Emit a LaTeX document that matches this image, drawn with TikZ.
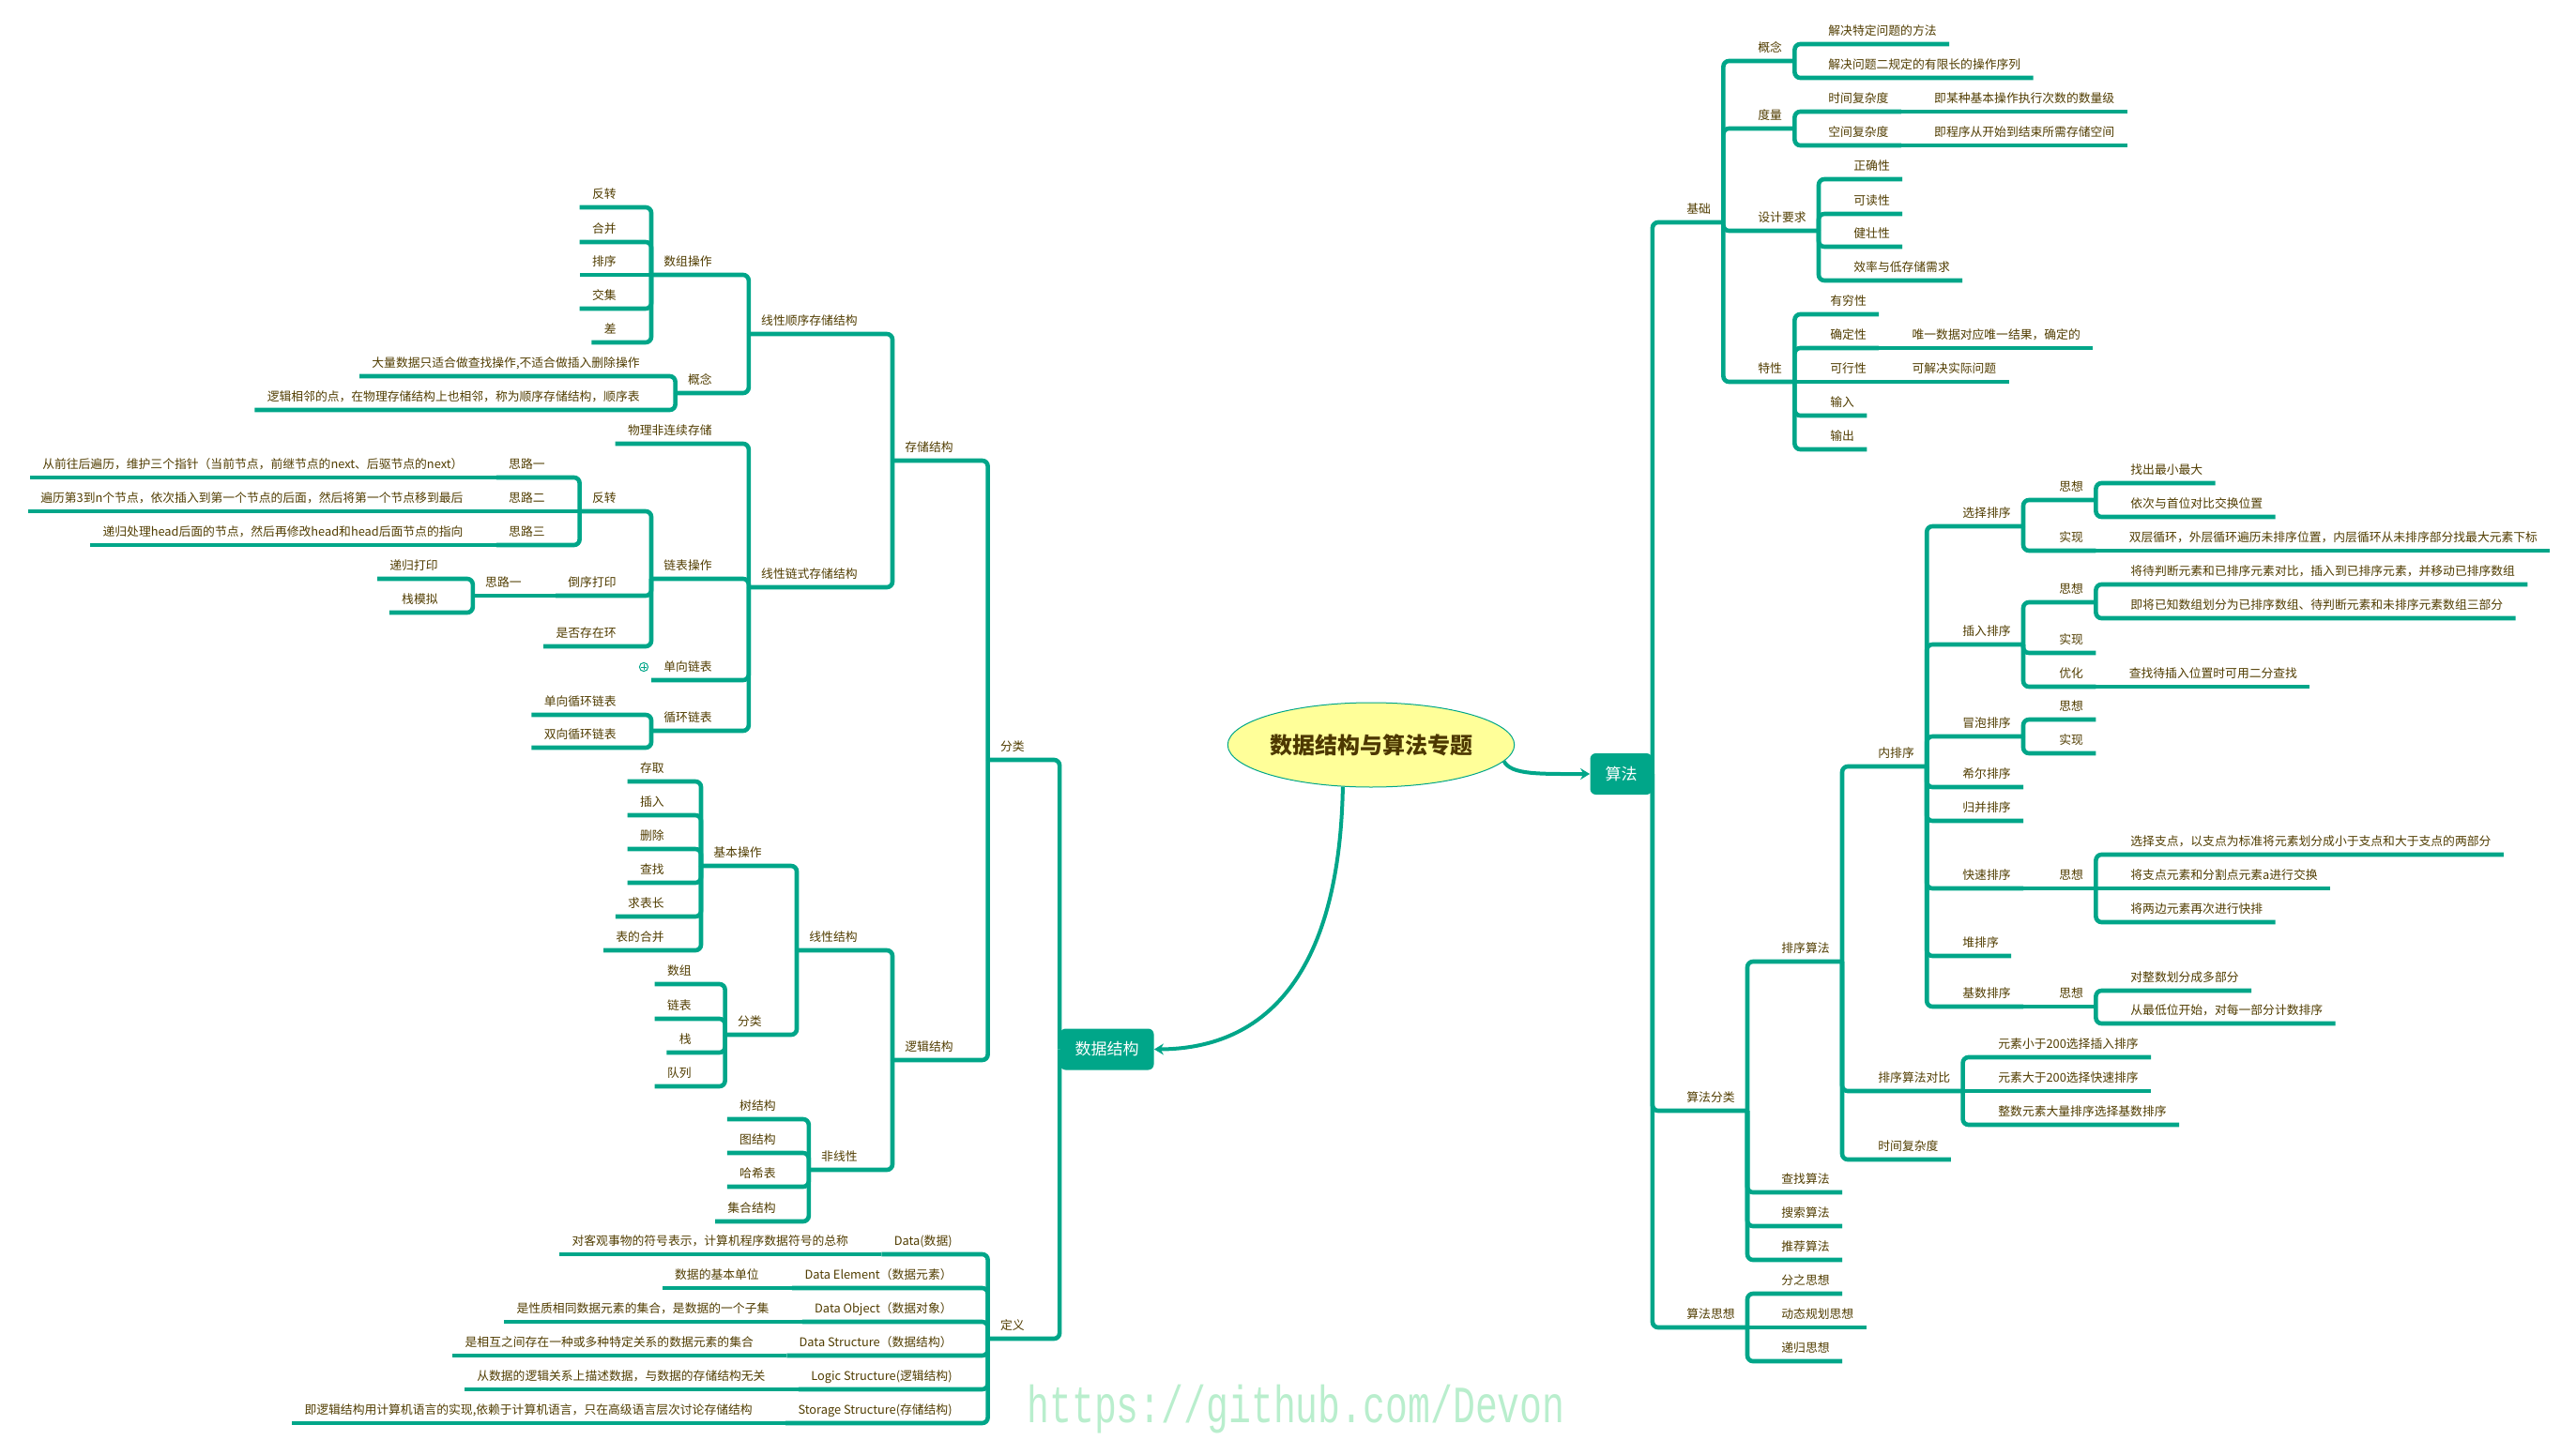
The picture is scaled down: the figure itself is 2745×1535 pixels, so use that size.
\documentclass[tikz,border=0pt]{standalone}
\usepackage{fontspec}
\setmainfont{Noto Sans CJK SC}
\newfontfamily\wmfont{Liberation Mono}
\usepackage{graphicx}
\usepackage{tikz}
\usetikzlibrary{positioning,shapes.geometric,arrows.meta}
\definecolor{brgreen}{RGB}{0,166,137}
\definecolor{inkbrown}{RGB}{80,60,0}
\definecolor{titleink}{RGB}{77,56,0}
\definecolor{titlefill}{RGB}{255,255,153}
\definecolor{wmgreen}{RGB}{185,238,205}

\begin{document}
\begin{tikzpicture}[
    x=0.5pt, y=-0.5pt,
    every node/.style={text=inkbrown, font=\fontsize{6.4pt}{8pt}\selectfont},
    item/.style={inner xsep=6.5pt, inner ysep=4.5pt, text depth=0pt},
    lt/.style={item, anchor=south east},
    rt/.style={item, anchor=south west},
    root/.style={ellipse, fill=titlefill, draw=brgreen, line width=0.5pt, minimum width=148.5pt, minimum height=45pt, inner sep=0pt, text=titleink, font=\fontsize{12pt}{14pt}\selectfont\bfseries},
    topic/.style={fill=brgreen, rounded corners=3pt, text=white, font=\fontsize{8.5pt}{10pt}\selectfont, minimum height=22pt, inner xsep=8pt},
    br/.style={draw=brgreen, line width=2.3pt, rounded corners=3pt},
    link/.style={->, >={Stealth[length=5pt,width=6pt]}, draw=brgreen, line width=2pt}
]
    \useasboundingbox (0,0) rectangle (2745,1535);

    \node[root] (ttl) at (1461,794) {数据结构与算法专题};
    \node[topic, minimum width=49.5pt] (ds) at (1179.5,1118.5) {数据结构};
    \node[topic, minimum width=32.5pt] (sf) at (1727.5,825) {算法};

    \node[lt] (fl) at (1105,810) {分类};
    \node[lt] (dy) at (1105,1427) {定义};
    \node[lt] (cc) at (1029,491) {存储结构};
    \node[lt] (lj) at (1029,1130) {逻辑结构};
    \node[lt] (sx) at (927,356) {线性顺序存储结构};
    \node[lt] (ls) at (927,626) {线性链式存储结构};
    \node[lt] (szcz) at (772,293) {数组操作};
    \node[lt] (gn1) at (772,419) {概念};
    \node[lt] (fz1) at (670,221) {反转};
    \node[lt] (hb1) at (670,258) {合并};
    \node[lt] (px1) at (670,293) {排序};
    \node[lt] (jj) at (670,329) {交集};
    \node[lt] (ch) at (670,365) {差};
    \node[lt] (gn1a) at (695,401) {大量数据只适合做查找操作,不适合做插入删除操作};
    \node[lt] (gn1b) at (695,437) {逻辑相邻的点，在物理存储结构上也相邻，称为顺序存储结构，顺序表};
    \node[lt] (wl) at (772,473) {物理非连续存储};
    \node[lt] (lbcz) at (772,617) {链表操作};
    \node[lt] (dxlb) at (772,725) {单向链表};
    \node[lt] (xhlb) at (772,779) {循环链表};
    \node[lt] (fz2) at (670,545) {反转};
    \node[lt] (dxdy) at (670,635) {倒序打印};
    \node[lt] (sfcz) at (670,689) {是否存在环};
    \node[lt] (sl1) at (594,509) {思路一};
    \node[lt] (sl2) at (594,545) {思路二};
    \node[lt] (sl3) at (594,581) {思路三};
    \node[lt, left=11pt of sl1.south west, anchor=south east] (sl1t) {从前往后遍历，维护三个指针（当前节点，前继节点的next、后驱节点的next）};
    \node[lt, left=11pt of sl2.south west, anchor=south east] (sl2t) {遍历第3到n个节点，依次插入到第一个节点的后面，然后将第一个节点移到最后};
    \node[lt, left=11pt of sl3.south west, anchor=south east] (sl3t) {递归处理head后面的节点，然后再修改head和head后面节点的指向};
    \node[lt] (dxsl) at (569,635) {思路一};
    \node[lt] (dgdy) at (480,617) {递归打印};
    \node[lt] (zmn) at (480,653) {栈模拟};
    \node[lt] (dxxh) at (670,762) {单向循环链表};
    \node[lt] (sxxh) at (670,797) {双向循环链表};
    \node[circle, draw=brgreen, line width=0.5pt, minimum size=4.6pt, inner sep=0pt] (fold) at (686,711) {};
    \node[lt] (xxjg) at (927,1013) {线性结构};
    \node[lt] (fxx) at (927,1247) {非线性};
    \node[lt] (jbcz) at (825,923) {基本操作};
    \node[lt] (fl2) at (825,1103) {分类};
    \node[lt] (cq) at (721,833) {存取};
    \node[lt] (cr) at (721,869) {插入};
    \node[lt] (sc) at (721,905) {删除};
    \node[lt] (cz) at (721,941) {查找};
    \node[lt] (qbc) at (721,977) {求表长};
    \node[lt] (bdhb) at (721,1013) {表的合并};
    \node[lt] (sz) at (750,1049) {数组};
    \node[lt] (lb) at (750,1086) {链表};
    \node[lt] (zh) at (750,1122) {栈};
    \node[lt] (dl) at (750,1158) {队列};
    \node[lt] (sjg) at (840,1193) {树结构};
    \node[lt] (tjg) at (840,1229) {图结构};
    \node[lt] (hxb) at (840,1265) {哈希表};
    \node[lt] (jhjg) at (840,1302) {集合结构};
    \node[lt] (data) at (1028,1337) {Data(数据)};
    \node[lt] (elem) at (1028,1373) {Data Element（数据元素）};
    \node[lt] (obj) at (1028,1409) {Data Object（数据对象）};
    \node[lt] (dstr) at (1028,1445) {Data Structure（数据结构）};
    \node[lt] (lstr) at (1028,1481) {Logic Structure(逻辑结构)};
    \node[lt] (sstr) at (1028,1517) {Storage Structure(存储结构)};
    \node[lt, left=11pt of data.south west, anchor=south east] (datat) {对客观事物的符号表示，计算机程序数据符号的总称};
    \node[lt, left=11pt of elem.south west, anchor=south east] (elemt) {数据的基本单位};
    \node[lt, left=11pt of obj.south west, anchor=south east] (objt) {是性质相同数据元素的集合，是数据的一个子集};
    \node[lt, left=11pt of dstr.south west, anchor=south east] (dstrt) {是相互之间存在一种或多种特定关系的数据元素的集合};
    \node[lt, left=11pt of lstr.south west, anchor=south east] (lstrt) {从数据的逻辑关系上描述数据，与数据的存储结构无关};
    \node[lt, left=11pt of sstr.south west, anchor=south east] (sstrt) {即逻辑结构用计算机语言的实现,依赖于计算机语言，只在高级语言层次讨论存储结构};

    \node[rt] (jc) at (1784,237) {基础};
    \node[rt] (flei) at (1784,1184) {算法分类};
    \node[rt] (sfsx) at (1784,1415) {算法思想};
    \node[rt] (gn2) at (1860,65) {概念};
    \node[rt] (dl2) at (1860,137) {度量};
    \node[rt] (sjyq) at (1860,246) {设计要求};
    \node[rt] (tx) at (1860,407) {特性};
    \node[rt] (gn2a) at (1935,47) {解决特定问题的方法};
    \node[rt] (gn2b) at (1935,83) {解决问题二规定的有限长的操作序列};
    \node[rt] (sjfz) at (1935,119) {时间复杂度};
    \node[rt] (kjfz) at (1935,155) {空间复杂度};
    \node[rt, right=11pt of sjfz.south east, anchor=south west] (sjfzt) {即某种基本操作执行次数的数量级};
    \node[rt, right=11pt of kjfz.south east, anchor=south west] (kjfzt) {即程序从开始到结束所需存储空间};
    \node[rt] (zqx) at (1962,191) {正确性};
    \node[rt] (kdx) at (1962,228) {可读性};
    \node[rt] (jzx) at (1962,263) {健壮性};
    \node[rt] (xl) at (1962,299) {效率与低存储需求};
    \node[rt] (yqx) at (1937,335) {有穷性};
    \node[rt] (qdx) at (1937,371) {确定性};
    \node[rt] (kxx) at (1937,407) {可行性};
    \node[rt] (sr) at (1937,443) {输入};
    \node[rt] (sc2) at (1937,479) {输出};
    \node[rt, right=11pt of qdx.south east, anchor=south west] (qdxt) {唯一数据对应唯一结果，确定的};
    \node[rt, right=11pt of kxx.south east, anchor=south west] (kxxt) {可解决实际问题};
    \node[rt] (pxsf) at (1885,1025) {排序算法};
    \node[rt] (czsf) at (1885,1271) {查找算法};
    \node[rt] (sssf) at (1885,1307) {搜索算法};
    \node[rt] (tjsf) at (1885,1343) {推荐算法};
    \node[rt] (fzsx) at (1885,1379) {分之思想};
    \node[rt] (dtgh) at (1885,1415) {动态规划思想};
    \node[rt] (dgsx) at (1885,1451) {递归思想};
    \node[rt] (npx) at (1988,817) {内排序};
    \node[rt] (pxdb) at (1988,1163) {排序算法对比};
    \node[rt] (sjfz2) at (1988,1236) {时间复杂度};
    \node[rt] (xzpx) at (2078,561) {选择排序};
    \node[rt] (crpx) at (2078,687) {插入排序};
    \node[rt] (mppx) at (2078,785) {冒泡排序};
    \node[rt] (xepx) at (2078,839) {希尔排序};
    \node[rt] (gbpx) at (2078,875) {归并排序};
    \node[rt] (kspx) at (2078,947) {快速排序};
    \node[rt] (dpx) at (2078,1019) {堆排序};
    \node[rt] (jspx) at (2078,1073) {基数排序};
    \node[rt] (xzsx) at (2181,533) {思想};
    \node[rt] (xzsj) at (2181,587) {实现};
    \node[rt] (xzsx1) at (2257,515) {找出最小最大};
    \node[rt] (xzsx2) at (2257,551) {依次与首位对比交换位置};
    \node[rt, right=11pt of xzsj.south east, anchor=south west] (xzsjt) {双层循环，外层循环遍历未排序位置，内层循环从未排序部分找最大元素下标};
    \node[rt] (crsx) at (2181,642) {思想};
    \node[rt] (crsj) at (2181,696) {实现};
    \node[rt] (cryh) at (2181,732) {优化};
    \node[rt] (crsx1) at (2257,623) {将待判断元素和已排序元素对比，插入到已排序元素，并移动已排序数组};
    \node[rt] (crsx2) at (2257,659) {即将已知数组划分为已排序数组、待判断元素和未排序元素数组三部分};
    \node[rt, right=11pt of cryh.south east, anchor=south west] (cryht) {查找待插入位置时可用二分查找};
    \node[rt] (mpsx) at (2181,767) {思想};
    \node[rt] (mpsj) at (2181,803) {实现};
    \node[rt] (kssx) at (2181,947) {思想};
    \node[rt] (kssx1) at (2257,911) {选择支点，以支点为标准将元素划分成小于支点和大于支点的两部分};
    \node[rt] (kssx2) at (2257,947) {将支点元素和分割点元素a进行交换};
    \node[rt] (kssx3) at (2257,983) {将两边元素再次进行快排};
    \node[rt] (jssx) at (2181,1073) {思想};
    \node[rt] (jssx1) at (2257,1056) {对整数划分成多部分};
    \node[rt] (jssx2) at (2257,1091) {从最低位开始，对每一部分计数排序};
    \node[rt] (db1) at (2116,1127) {元素小于200选择插入排序};
    \node[rt] (db2) at (2116,1163) {元素大于200选择快速排序};
    \node[rt] (db3) at (2116,1199) {整数元素大量排序选择基数排序};

    \node[text=wmgreen, font=\wmfont\fontsize{19.9pt}{20pt}\selectfont, anchor=base, inner sep=0pt] (wm) at (1381,1516) {\scalebox{1}[1.4]{https://github.com/Devon}};

    \draw[link] (ttl.236) .. controls (1427,1050) and (1340,1118) .. (ds.east);
    \draw[link] (ttl.-7) .. controls (1610,826) and (1640,825) .. (sf.west);

    \draw[br] (ds.west) |- (fl.south west);
    \draw[br] (ds.west) |- (dy.south west);
    \draw[br] (fl.south west) |- (cc.south west);
    \draw[br] (fl.south west) |- (lj.south west);
    \draw[br] (cc.south west) |- (sx.south west);
    \draw[br] (cc.south west) |- (ls.south west);
    \draw[br] (sx.south west) |- (szcz.south west);
    \draw[br] (sx.south west) |- (gn1.south west);
    \draw[br] (szcz.south west) |- (fz1.south west);
    \draw[br] (szcz.south west) |- (hb1.south west);
    \draw[br] (szcz.south west) -- (px1.south west);
    \draw[br] (szcz.south west) |- (jj.south west);
    \draw[br] (szcz.south west) |- (ch.south west);
    \draw[br] (gn1.south west) |- (gn1a.south west);
    \draw[br] (gn1.south west) |- (gn1b.south west);
    \draw[br] (ls.south west) |- (wl.south west);
    \draw[br] (ls.south west) |- (lbcz.south west);
    \draw[br] (ls.south west) |- (dxlb.south west);
    \draw[br] (ls.south west) |- (xhlb.south west);
    \draw[br] (lbcz.south west) |- (fz2.south west);
    \draw[br] (lbcz.south west) |- (dxdy.south west);
    \draw[br] (lbcz.south west) |- (sfcz.south west);
    \draw[br] (fz2.south west) |- (sl1.south west);
    \draw[br] (fz2.south west) -- (sl2.south west);
    \draw[br] (fz2.south west) |- (sl3.south west);
    \draw[br] (sl1.south west) -- (sl1t.south west);
    \draw[br] (sl2.south west) -- (sl2t.south west);
    \draw[br] (sl3.south west) -- (sl3t.south west);
    \draw[br] (dxdy.south west) -- (dxsl.south west);
    \draw[br] (dxsl.south west) |- (dgdy.south west);
    \draw[br] (dxsl.south west) |- (zmn.south west);
    \draw[br] (xhlb.south west) |- (dxxh.south west);
    \draw[br] (xhlb.south west) |- (sxxh.south west);
    \draw[br] (lj.south west) |- (xxjg.south west);
    \draw[br] (lj.south west) |- (fxx.south west);
    \draw[br] (xxjg.south west) |- (jbcz.south west);
    \draw[br] (xxjg.south west) |- (fl2.south west);
    \draw[br] (jbcz.south west) |- (cq.south west);
    \draw[br] (jbcz.south west) |- (cr.south west);
    \draw[br] (jbcz.south west) |- (sc.south west);
    \draw[br] (jbcz.south west) |- (cz.south west);
    \draw[br] (jbcz.south west) |- (qbc.south west);
    \draw[br] (jbcz.south west) |- (bdhb.south west);
    \draw[br] (fl2.south west) |- (sz.south west);
    \draw[br] (fl2.south west) |- (lb.south west);
    \draw[br] (fl2.south west) |- (zh.south west);
    \draw[br] (fl2.south west) |- (dl.south west);
    \draw[br] (fxx.south west) |- (sjg.south west);
    \draw[br] (fxx.south west) |- (tjg.south west);
    \draw[br] (fxx.south west) |- (hxb.south west);
    \draw[br] (fxx.south west) |- (jhjg.south west);
    \draw[br] (dy.south west) |- (data.south west);
    \draw[br] (dy.south west) |- (elem.south west);
    \draw[br] (dy.south west) |- (obj.south west);
    \draw[br] (dy.south west) |- (dstr.south west);
    \draw[br] (dy.south west) |- (lstr.south west);
    \draw[br] (dy.south west) |- (sstr.south west);
    \draw[br] (data.south west) -- (datat.south west);
    \draw[br] (elem.south west) -- (elemt.south west);
    \draw[br] (obj.south west) -- (objt.south west);
    \draw[br] (dstr.south west) -- (dstrt.south west);
    \draw[br] (lstr.south west) -- (lstrt.south west);
    \draw[br] (sstr.south west) -- (sstrt.south west);
    \draw[brgreen, line width=0.5pt] ([xshift=-1.4pt]fold.center) -- ([xshift=1.4pt]fold.center) ([yshift=-1.4pt]fold.center) -- ([yshift=1.4pt]fold.center);

    \draw[br] (sf.east) |- (jc.south east);
    \draw[br] (sf.east) |- (flei.south east);
    \draw[br] (sf.east) |- (sfsx.south east);
    \draw[br] (jc.south east) |- (gn2.south east);
    \draw[br] (jc.south east) |- (dl2.south east);
    \draw[br] (jc.south east) |- (sjyq.south east);
    \draw[br] (jc.south east) |- (tx.south east);
    \draw[br] (gn2.south east) |- (gn2a.south east);
    \draw[br] (gn2.south east) |- (gn2b.south east);
    \draw[br] (dl2.south east) |- (sjfz.south east);
    \draw[br] (dl2.south east) |- (kjfz.south east);
    \draw[br] (sjfz.south east) -- (sjfzt.south east);
    \draw[br] (kjfz.south east) -- (kjfzt.south east);
    \draw[br] (sjyq.south east) |- (zqx.south east);
    \draw[br] (sjyq.south east) |- (kdx.south east);
    \draw[br] (sjyq.south east) |- (jzx.south east);
    \draw[br] (sjyq.south east) |- (xl.south east);
    \draw[br] (tx.south east) |- (yqx.south east);
    \draw[br] (tx.south east) |- (qdx.south east);
    \draw[br] (tx.south east) -- (kxx.south east);
    \draw[br] (tx.south east) |- (sr.south east);
    \draw[br] (tx.south east) |- (sc2.south east);
    \draw[br] (qdx.south east) -- (qdxt.south east);
    \draw[br] (kxx.south east) -- (kxxt.south east);
    \draw[br] (flei.south east) |- (pxsf.south east);
    \draw[br] (flei.south east) |- (czsf.south east);
    \draw[br] (flei.south east) |- (sssf.south east);
    \draw[br] (flei.south east) |- (tjsf.south east);
    \draw[br] (sfsx.south east) |- (fzsx.south east);
    \draw[br] (sfsx.south east) -- (dtgh.south east);
    \draw[br] (sfsx.south east) |- (dgsx.south east);
    \draw[br] (pxsf.south east) |- (npx.south east);
    \draw[br] (pxsf.south east) |- (pxdb.south east);
    \draw[br] (pxsf.south east) |- (sjfz2.south east);
    \draw[br] (npx.south east) |- (xzpx.south east);
    \draw[br] (npx.south east) |- (crpx.south east);
    \draw[br] (npx.south east) |- (mppx.south east);
    \draw[br] (npx.south east) |- (xepx.south east);
    \draw[br] (npx.south east) |- (gbpx.south east);
    \draw[br] (npx.south east) |- (kspx.south east);
    \draw[br] (npx.south east) |- (dpx.south east);
    \draw[br] (npx.south east) |- (jspx.south east);
    \draw[br] (xzpx.south east) |- (xzsx.south east);
    \draw[br] (xzpx.south east) |- (xzsj.south east);
    \draw[br] (xzsx.south east) |- (xzsx1.south east);
    \draw[br] (xzsx.south east) |- (xzsx2.south east);
    \draw[br] (xzsj.south east) -- (xzsjt.south east);
    \draw[br] (crpx.south east) |- (crsx.south east);
    \draw[br] (crpx.south east) |- (crsj.south east);
    \draw[br] (crpx.south east) |- (cryh.south east);
    \draw[br] (crsx.south east) |- (crsx1.south east);
    \draw[br] (crsx.south east) |- (crsx2.south east);
    \draw[br] (cryh.south east) -- (cryht.south east);
    \draw[br] (mppx.south east) |- (mpsx.south east);
    \draw[br] (mppx.south east) |- (mpsj.south east);
    \draw[br] (kspx.south east) -- (kssx.south east);
    \draw[br] (kssx.south east) |- (kssx1.south east);
    \draw[br] (kssx.south east) -- (kssx2.south east);
    \draw[br] (kssx.south east) |- (kssx3.south east);
    \draw[br] (jspx.south east) -- (jssx.south east);
    \draw[br] (jssx.south east) |- (jssx1.south east);
    \draw[br] (jssx.south east) |- (jssx2.south east);
    \draw[br] (pxdb.south east) |- (db1.south east);
    \draw[br] (pxdb.south east) -- (db2.south east);
    \draw[br] (pxdb.south east) |- (db3.south east);
\end{tikzpicture}
\end{document}
